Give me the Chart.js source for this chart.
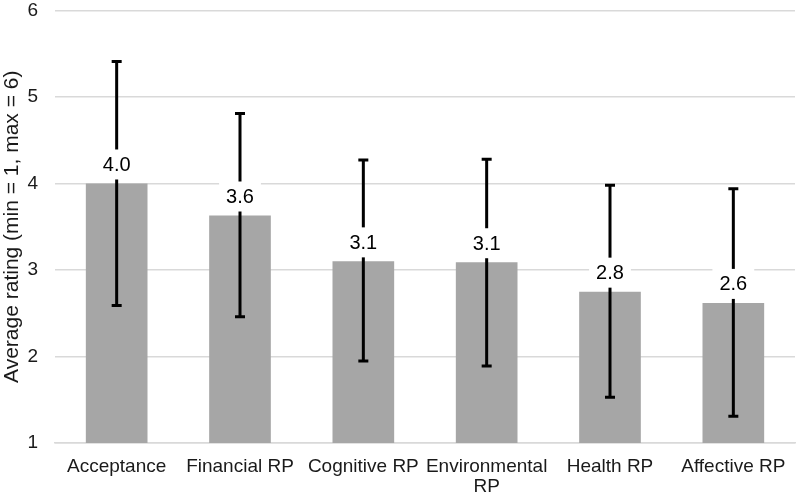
<!DOCTYPE html>
<html>
<head>
<meta charset="utf-8">
<script src="https://cdn.jsdelivr.net/npm/chart.js@4/dist/chart.umd.min.js"></script>
<style>
  body { margin: 0; background: #fff; }
  #wrap { width: 796px; height: 496px; overflow: hidden; position: relative; }
  #inner { width: 796px; height: 521px; position: absolute; top: -18px; left: 0; }
</style>
</head>
<body>
<div id="wrap"><div id="inner"><canvas id="myChart"></canvas></div></div>
<script>
// data
const categories = ["Acceptance", "Financial RP", "Cognitive RP", ["Environmental", "RP"], "Health RP", "Affective RP"];
const meanValues = [4.0, 3.63, 3.1, 3.09, 2.75, 2.62];
const errorUpper = [5.41, 4.81, 4.27, 4.28, 3.98, 3.94];
const errorLower = [2.59, 2.46, 1.95, 1.89, 1.53, 1.31];
const yTicks = [1, 2, 3, 4, 5, 6];

const textColor = "#1a1a1a";
const fontFam = "'Liberation Sans', Arial, sans-serif";

// error bars + value labels drawn on top of bars
const errorBarsPlugin = {
  id: "errorBars",
  afterDatasetsDraw(chart) {
    const ctx = chart.ctx;
    const y = chart.scales.y;
    const meta = chart.getDatasetMeta(0);
    ctx.save();
    meta.data.forEach(function (bar, i) {
      const x = bar.x;
      const top = y.getPixelForValue(errorUpper[i]);
      const bot = y.getPixelForValue(errorLower[i]);
      ctx.strokeStyle = "#000";
      ctx.lineWidth = 3;
      ctx.beginPath();
      ctx.moveTo(x, top);
      ctx.lineTo(x, bot);
      ctx.moveTo(x - 5, top);
      ctx.lineTo(x + 5, top);
      ctx.moveTo(x - 5, bot);
      ctx.lineTo(x + 5, bot);
      ctx.stroke();

      // label with white box
      const label = meanValues[i].toFixed(1);
      ctx.font = "20px " + fontFam;
      const w = ctx.measureText(label).width + 14;
      const cy = bar.y - 19;
      ctx.fillStyle = "#fff";
      ctx.fillRect(x - w / 2, cy - 15, w, 30);
      ctx.fillStyle = "#000";
      ctx.textAlign = "center";
      ctx.textBaseline = "middle";
      ctx.fillText(label, x, cy + 1);
    });
    ctx.restore();
  }
};

const ctx = document.getElementById("myChart");

new Chart(ctx, {
  type: "bar",
  data: {
    labels: categories,
    datasets: [{
      data: meanValues,
      backgroundColor: "#a6a6a6",
      borderWidth: 0,
      barPercentage: 0.5,
      categoryPercentage: 1.0
    }]
  },
  options: {
    responsive: true,
    maintainAspectRatio: false,
    animation: false,
    layout: { padding: { top: 0, right: 1, left: 0, bottom: 0 } },
    plugins: {
      legend: { display: false },
      tooltip: { enabled: false }
    },
    scales: {
      x: {
        grid: { display: false },
        border: { display: true, color: "#d9d9d9", width: 1.5 },
        ticks: {
          color: textColor,
          maxRotation: 0,
          autoSkip: false,
          padding: 6,
          font: { family: fontFam, size: 19, lineHeight: 1.05 }
        }
      },
      y: {
        min: 1,
        max: 6,
        afterBuildTicks(axis) {
          axis.ticks = yTicks.map(function (v) { return { value: v }; });
        },
        afterFit(axis) {
          axis.width = 55;
        },
        grid: { color: "#d9d9d9", lineWidth: 1.5, drawTicks: false },
        border: { display: false },
        ticks: {
          color: textColor,
          padding: 17,
          font: { family: fontFam, size: 19 }
        },
        title: {
          display: true,
          text: "Average rating (min = 1, max = 6)",
          color: textColor,
          padding: { top: 0, bottom: 2 },
          font: { family: fontFam, size: 21 }
        }
      }
    }
  },
  plugins: [errorBarsPlugin]
});
</script>
</body>
</html>
